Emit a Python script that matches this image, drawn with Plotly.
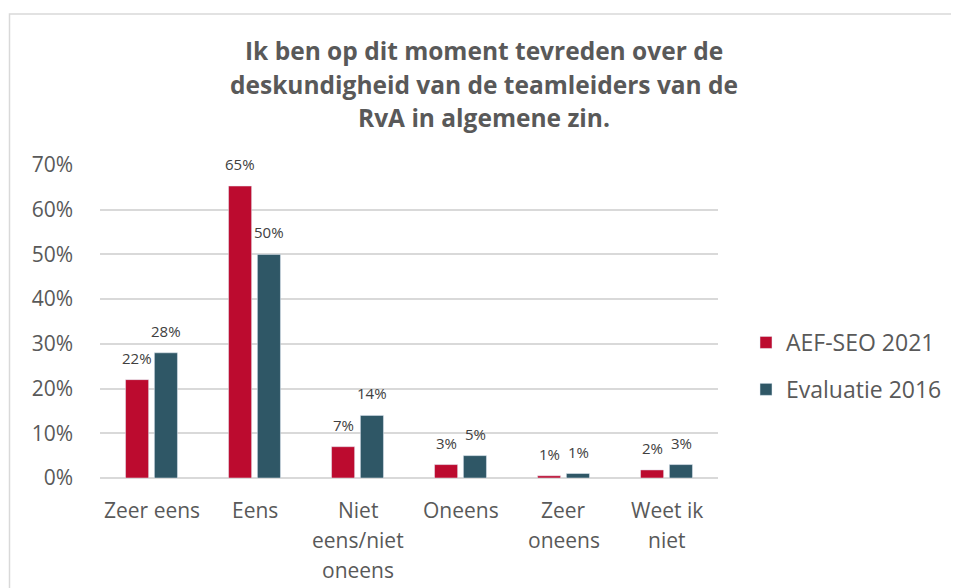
import plotly.graph_objects as go

categories = ["Zeer eens", "Eens", "Niet eens/niet oneens", "Oneens", "Zeer oneens", "Weet ik niet"]
category_lines = [["Zeer eens"], ["Eens"], ["Niet", "eens/niet", "oneens"], ["Oneens"],
                  ["Zeer", "oneens"], ["Weet ik", "niet"]]
aef_2021 = [0.22, 0.653, 0.07, 0.03, 0.005, 0.018]
eval_2016 = [0.28, 0.50, 0.14, 0.05, 0.01, 0.03]
aef_labels = ["22%", "65%", "7%", "3%", "1%", "2%"]
eval_labels = ["28%", "50%", "14%", "5%", "1%", "3%"]
title_lines = ["Ik ben op dit moment tevreden over de",
               "deskundigheid van de teamleiders van de",
               "RvA in algemene zin."]
y_ticks = [0, 0.1, 0.2, 0.3, 0.4, 0.5, 0.6, 0.7]

RED = "#BC0B2F"
TEAL = "#2F5766"
TXT = "#595959"

OFF = 8  # page body margin
W, H = 959 - OFF, 588 - OFF
# plot area in reference pixels
X0, X1, Y0, Y1 = 100, 718, 165, 478
L, R, T, B = X0 - OFF, 959 - X1, Y0 - OFF, 588 - Y1

fig = go.Figure()
fig.add_trace(go.Bar(x=categories, y=aef_2021, name="AEF-SEO 2021", marker_color=RED,
                     legendgroup="a"))
fig.add_trace(go.Bar(x=categories, y=eval_2016, name="Evaluatie 2016", marker_color=TEAL,
                     legendgroup="b"))

pw = X1 - X0
ph = Y1 - Y0
def px(x):
    return (x - X0) / pw
def py(y):
    return (Y1 - y) / ph

# data labels above each bar
for vals, labs, shift in ((aef_2021, aef_labels, -14.5), (eval_2016, eval_labels, 14.5)):
    for c, v, t in zip(categories, vals, labs):
        fig.add_annotation(x=c, y=v, xref="x", yref="y", text=t, showarrow=False,
                           xshift=shift, yshift=10, yanchor="bottom",
                           font=dict(size=15, color="#404040"))

# category labels
for c, lines in zip(categories, category_lines):
    for j, ln in enumerate(lines):
        fig.add_annotation(x=c, xref="x", yref="paper", y=py(510 + 30 * j), text=ln,
                           showarrow=False, yanchor="middle",
                           font=dict(size=21, color=TXT))

# border
fig.add_shape(type="rect", xref="paper", yref="paper",
              x0=px(9.5), x1=px(975), y0=py(600), y1=py(14),
              line=dict(color="#D9D9D9", width=1.5), fillcolor="rgba(0,0,0,0)", layer="below")

for i, line in enumerate(title_lines):
    fig.add_annotation(text="<b>" + line + "</b>", xref="paper", yref="paper",
                       x=px(484), y=py(50 + 34 * i), showarrow=False,
                       xanchor="center", yanchor="middle",
                       font=dict(size=24.5, color=TXT, family="Open Sans"))

fig.update_layout(
    width=W, height=H,
    margin=dict(l=L, r=R, t=T, b=B),
    paper_bgcolor="white", plot_bgcolor="white",
    font=dict(family="Open Sans", color=TXT),
    barmode="group", bargap=0.44, bargroupgap=0.2,
    showlegend=True,
    legend=dict(x=px(746), y=py(366), xanchor="left", yanchor="middle",
                font=dict(size=23, color=TXT), tracegroupgap=14,
                bgcolor="rgba(0,0,0,0)"),
)
fig.update_yaxes(range=[0, 0.7], tickvals=y_ticks, tickformat=".0%",
                 showgrid=True, gridcolor="#D9D9D9", gridwidth=1.5,
                 zeroline=True, zerolinecolor="#D9D9D9", zerolinewidth=1.5,
                 showline=False, tickfont=dict(size=21, color=TXT), ticklabelstandoff=26)
fig.update_xaxes(showline=False, showticklabels=False)

fig.write_html("out.html")
